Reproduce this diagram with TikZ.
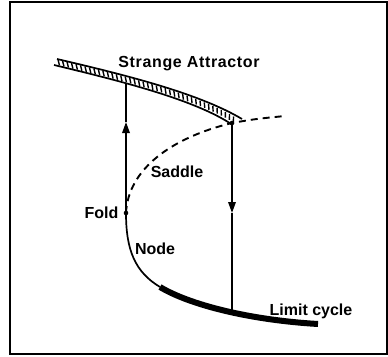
\documentclass[tikz,border=0pt]{standalone}
\usepackage{fontspec}
\setmainfont{Liberation Sans}
\usetikzlibrary{arrows.meta,decorations.markings}
\tikzset{
  lbl/.style={font=\fontsize{16}{18}\selectfont\bfseries, inner sep=0pt},
  edge/.style={line width=1.7pt, line cap=butt},
  thin/.style={line width=1.7pt},
  dashcurve/.style={line width=1.9pt, dash pattern=on 7pt off 5pt},
  hatchband/.style={postaction={decorate}, decoration={markings,
     mark=between positions 0.015 and 0.985 step 4.6pt with {\draw[line width=1.4pt] (-1.3pt,2.5pt) -- (1.3pt,-2.5pt);}}},
  tri/.style={-{Triangle[length=11pt,width=7.5pt]}},
}
\begin{document}
\begin{tikzpicture}[x=1pt,y=-1pt]
\useasboundingbox (0,0) rectangle (388,356);
\draw[line width=1.8pt] (10,2) rectangle (387,354);
% strange attractor band
\draw[edge] (57,59) .. controls (130,76) and (200,94) .. (242,119);
\draw[edge] (54,65) .. controls (125,82) and (195,100) .. (232,124.5);
\path[hatchband] (56,62) .. controls (128,79) and (198,97) .. (237,121.5);
% key points
\coordinate (fold) at (126,213);
\coordinate (saTop) at (126,83);
\coordinate (upTip) at (126,122);
\coordinate (rTop) at (232,123);
\coordinate (downTip) at (232,213);
\coordinate (lcHit) at (232,312);
\coordinate (thickStart) at (160,287);
\coordinate (dashEnd) at (285,116);
% dashed saddle branch
\draw[dashcurve] (fold) .. controls (128,170) and (170,138) .. (rTop) .. controls (255,119) .. (dashEnd);
% node branch
\draw[thin] (fold) .. controls (126,250) and (135,272) .. (thickStart);
\draw[line width=6pt] (thickStart) .. controls (190,305) and (250,320) .. (318,324);
% vertical transitions
\draw[thin, tri] (fold) -- (upTip);
\draw[thin] (upTip) -- (saTop);
\draw[thin, tri] (rTop) -- (downTip);
\draw[thin] (downTip) -- (lcHit);
\fill (fold) circle (2.3pt);
\fill (rTop) circle (2.3pt);
% labels
\node[lbl] (sa) at (189,64) {\addfontfeature{LetterSpace=4}Strange Attractor};
\node[lbl] (sad) at (177,172) {Saddle};
\node[lbl] (fl) at (101.5,213) {Fold};
\node[lbl] (nd) at (155,249) {Node};
\node[lbl] (lc) at (311,311) {Limit cycle};
\end{tikzpicture}
\end{document}
